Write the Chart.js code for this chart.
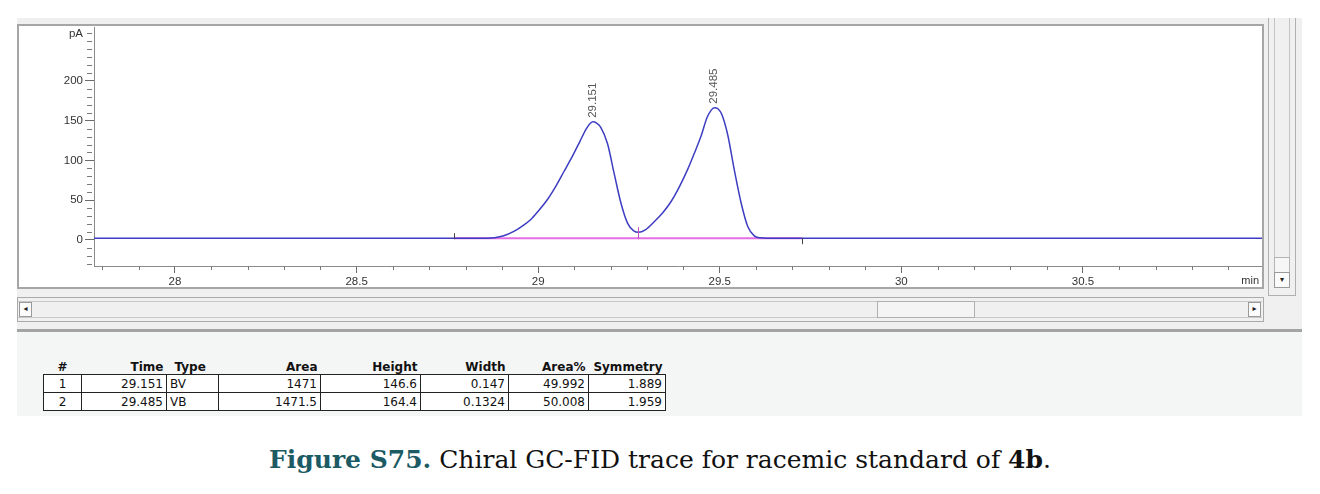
<!DOCTYPE html>
<html>
<head>
<meta charset="utf-8">
<script src="https://cdn.jsdelivr.net/npm/chart.js@4.4.1/dist/chart.umd.min.js"></script>
<style>
body { margin: 0; width: 1320px; height: 494px; position: relative; background: #fff; overflow: hidden; font-family: "DejaVu Sans", sans-serif; }
.abs { position: absolute; box-sizing: border-box; }
#panel { left: 17px; top: 18px; width: 1285px; height: 398px; background: #f0f0f0; }
#frame { left: 17px; top: 24px; width: 1247px; height: 265px; background: #fff; border: 2px solid #a6a6a6; }
#chartBox { left: 0; top: 0; width: 1262px; height: 288px; }
#vOuter { left: 1268px; top: 18px; width: 28px; height: 278px; border: 1px solid #b0b0b0; border-top: none; }
#vTrack { left: 1274px; top: 18px; width: 16px; height: 255px; border-left: 1px solid #c4c4c4; border-right: 1px solid #c4c4c4; }
#vThumb { left: 1274px; top: 257px; width: 16px; height: 16px; border: 1px solid #b4b4b4; background: #f6f6f6; }
.btn { border: 1px solid #9a9a9a; background: #fbfbfb; font-size: 8px; line-height: 12px; text-align: center; color: #222; }
#vDown { left: 1274px; top: 272px; width: 16px; height: 16px; line-height: 14px; }
#hBar { left: 17px; top: 297px; width: 1247px; height: 25px; border: 1px solid #ababab; }
#hTrack { left: 18px; top: 301px; width: 1244px; height: 17px; border-top: 1px solid #c8c8c8; border-bottom: 1px solid #c8c8c8; }
#hLeft { left: 19px; top: 302px; width: 13px; height: 15px; }
#hRight { left: 1248px; top: 302px; width: 13px; height: 15px; }
#hThumb { left: 877px; top: 301px; width: 98px; height: 17px; border: 1px solid #b0b0b0; background: #f4f4f4; }
#sep { left: 17px; top: 329px; width: 1285px; height: 3px; background: #a4a4a4; }
#tableArea { left: 17px; top: 332px; width: 1285px; height: 84px; background: #f4f5f5; }
#peaks { position: absolute; left: 43px; top: 356px; border-collapse: collapse; font-size: 12px; color: #111; table-layout: fixed; }
#peaks th { font-weight: bold; height: 18px; padding: 0 3px; text-align: right; vertical-align: bottom; }
#peaks td { height: 17px; padding: 0 3px; border: 1px solid #222; text-align: right; background: #fff; }
#peaks .c { text-align: center; }
#peaks .l { text-align: left; }
#caption { left: 0; top: 445px; width: 1320px; text-align: center; font-family: "DejaVu Serif", serif; font-size: 25px; color: #111; }
#caption .fig { color: #1c5a64; font-weight: bold; }
</style>
</head>
<body>
<div class="abs" id="panel"></div>
<div class="abs" id="frame"></div>
<div class="abs" id="vOuter"></div>
<div class="abs" id="vTrack"></div>
<div class="abs" id="vThumb"></div>
<div class="abs btn" id="vDown">&#9662;</div>
<div class="abs" id="hBar"></div>
<div class="abs" id="hTrack"></div>
<div class="abs" id="hThumb"></div>
<div class="abs btn" id="hLeft">&#9666;</div>
<div class="abs btn" id="hRight">&#9656;</div>
<div class="abs" id="sep"></div>
<div class="abs" id="tableArea"></div>
<table id="peaks">
  <colgroup>
    <col style="width:38px"><col style="width:85px"><col style="width:52px"><col style="width:102px">
    <col style="width:100px"><col style="width:88px"><col style="width:80px"><col style="width:77px">
  </colgroup>
  <tr><th class="c">#</th><th>Time</th><th class="l" style="padding-left:8px">Type</th><th>Area</th><th>Height</th><th>Width</th><th>Area%</th><th>Symmetry</th></tr>
  <tr><td class="c">1</td><td>29.151</td><td class="l">BV</td><td>1471</td><td>146.6</td><td>0.147</td><td>49.992</td><td>1.889</td></tr>
  <tr><td class="c">2</td><td>29.485</td><td class="l">VB</td><td>1471.5</td><td>164.4</td><td>0.1324</td><td>50.008</td><td>1.959</td></tr>
</table>
<div class="abs" id="caption"><span class="fig">Figure S75.</span> Chiral GC-FID trace for racemic standard of <b>4b</b>.</div>
<div class="abs" id="chartBox"><canvas id="gc"></canvas></div>

<script>
// signal trace (min, pA)
const times = [27.777, 28.77, 28.86, 28.88, 28.905, 28.933, 28.955, 28.979, 29.0, 29.025, 29.048, 29.071, 29.094,
  29.115, 29.132, 29.143, 29.151, 29.16, 29.172, 29.191, 29.209, 29.228, 29.246, 29.264, 29.276, 29.295, 29.32, 29.343,
  29.366, 29.389, 29.411, 29.43, 29.448, 29.465, 29.476, 29.485, 29.495, 29.506, 29.522, 29.54, 29.559, 29.577, 29.595,
  29.61, 29.63, 29.725, 30.993];
const signal = [2, 2, 2, 2.6, 5, 10.5, 17, 25.2, 36, 50.4, 67, 86, 105,
  124, 139.5, 146.5, 148.6, 147.3, 142, 121, 84, 46, 21, 10.8, 9.5, 12.5, 23, 34,
  48.2, 67, 88, 109, 130, 154, 163, 166.4, 165, 157.5, 132, 88, 46, 16.8, 5,
  2.5, 2, 2, 2];

// integration baseline
const baseTimes = [28.768, 29.727];
const baseValues = [2, 2];

// peaks
const peakTimes = [29.151, 29.485];
const peakHeights = [146.6, 164.4];
const baseline = 2;
const eventTimes = [28.768, 29.276, 29.727];

// axis ticks
const xTickValues = [27.8, 27.9, 28, 28.1, 28.2, 28.3, 28.4, 28.5, 28.6, 28.7, 28.8, 28.9, 29, 29.1, 29.2,
  29.3, 29.4, 29.5, 29.6, 29.7, 29.8, 29.9, 30, 30.1, 30.2, 30.3, 30.4, 30.5, 30.6, 30.7, 30.8, 30.9];
const xLabels = [28, 28.5, 29, 29.5, 30, 30.5];
const yTickValues = [-30, -20, -10, 0, 10, 20, 30, 40, 50, 60, 70, 80, 90, 100, 110, 120, 130, 140, 150,
  160, 170, 180, 190, 200, 210, 220, 230, 240, 250, 260];
const yLabels = [0, 50, 100, 150, 200];

const isXMajor = v => xLabels.some(l => Math.abs(l - v) < 1e-6);
const isYMajor = v => yLabels.includes(v);

const extras = {
  id: 'extras',
  afterDraw(chart) {
    const ctx = chart.ctx, a = chart.chartArea;
    const xs = chart.scales.x, ys = chart.scales.y;
    ctx.save();
    // minor ticks
    ctx.strokeStyle = '#7a7a7a';
    ctx.lineWidth = 1;
    ctx.beginPath();
    xTickValues.forEach(v => {
      if (isXMajor(v)) return;
      const px = Math.round(xs.getPixelForValue(v)) + 0.5;
      ctx.moveTo(px, a.bottom); ctx.lineTo(px, a.bottom + 4);
    });
    yTickValues.forEach(v => {
      if (isYMajor(v)) return;
      const py = Math.round(ys.getPixelForValue(v)) + 0.5;
      ctx.moveTo(a.left - 2, py); ctx.lineTo(a.left - 7, py);
    });
    ctx.stroke();

    // unit label
    ctx.fillStyle = '#333';
    ctx.font = '11px "Liberation Sans", Arial, sans-serif';
    ctx.textAlign = 'right';
    ctx.textBaseline = 'middle';
    ctx.fillText('min', a.right - 3, a.bottom + 15);

    // retention time labels
    ctx.fillStyle = '#555';
    ctx.font = '11.5px "Liberation Sans", Arial, sans-serif';
    ctx.textAlign = 'left';
    peakTimes.forEach((t, i) => {
      const px = xs.getPixelForValue(t);
      const py = ys.getPixelForValue(peakHeights[i] + baseline);
      ctx.save();
      ctx.translate(px, py - 4);
      ctx.rotate(-Math.PI / 2);
      ctx.fillText(t.toFixed(3), 0, 0);
      ctx.restore();
    });

    // integration event marks
    const yb = ys.getPixelForValue(baseline);
    eventTimes.forEach((t, i) => {
      const px = Math.round(xs.getPixelForValue(t)) + 0.5;
      ctx.beginPath();
      if (i === 1) {
        ctx.strokeStyle = '#c050c0';
        ctx.moveTo(px, yb - 11); ctx.lineTo(px, yb + 1);
      } else if (i === 0) {
        ctx.strokeStyle = '#444';
        ctx.moveTo(px, yb - 5); ctx.lineTo(px, yb + 1);
      } else {
        ctx.strokeStyle = '#444';
        ctx.moveTo(px, yb); ctx.lineTo(px, yb + 6);
      }
      ctx.stroke();
    });
    ctx.restore();
  }
};

new Chart(document.getElementById('gc'), {
  type: 'line',
  data: {
    datasets: [
      {
        data: times.map((t, i) => ({ x: t, y: signal[i] })),
        borderColor: '#3d3dc2',
        borderWidth: 1.5,
        pointRadius: 0,
        cubicInterpolationMode: 'monotone',
        fill: false
      },
      {
        data: baseTimes.map((t, i) => ({ x: t, y: baseValues[i] })),
        borderColor: '#e46ee4',
        borderWidth: 2,
        pointRadius: 0,
        fill: false
      }
    ]
  },
  options: {
    responsive: true,
    maintainAspectRatio: false,
    animation: false,
    layout: { padding: { left: 18, top: 27, right: 0, bottom: 0 } },
    plugins: { legend: { display: false }, tooltip: { enabled: false } },
    scales: {
      x: {
        type: 'linear',
        min: 27.777,
        max: 30.993,
        afterBuildTicks: s => { s.ticks = xTickValues.map(v => ({ value: v })); },
        afterFit: s => { s.height = 22; },
        border: { display: true, color: '#8a8a8a', width: 1 },
        grid: {
          drawOnChartArea: false,
          tickLength: 7,
          tickColor: c => (c.tick && isXMajor(c.tick.value)) ? '#6a6a6a' : 'rgba(0,0,0,0)'
        },
        ticks: {
          autoSkip: false,
          maxRotation: 0,
          padding: 2,
          color: '#333',
          font: { family: '"Liberation Sans", Arial, sans-serif', size: 11.5 },
          callback: v => isXMajor(v) ? String(Math.round(v * 10) / 10) : ''
        }
      },
      y: {
        min: -33,
        max: 268,
        afterBuildTicks: s => { s.ticks = yTickValues.map(v => ({ value: v })); },
        afterFit: s => { s.width = 76; },
        border: { display: true, color: '#8a8a8a', width: 1 },
        grid: {
          drawOnChartArea: false,
          tickLength: 9,
          tickColor: c => (c.tick && isYMajor(c.tick.value)) ? '#6a6a6a' : 'rgba(0,0,0,0)'
        },
        ticks: {
          autoSkip: false,
          padding: 2,
          color: '#333',
          font: { family: '"Liberation Sans", Arial, sans-serif', size: 11.5 },
          callback: v => isYMajor(v) ? String(v) : (v === 260 ? 'pA' : '')
        }
      }
    }
  },
  plugins: [extras]
});
</script>
</body>
</html>
